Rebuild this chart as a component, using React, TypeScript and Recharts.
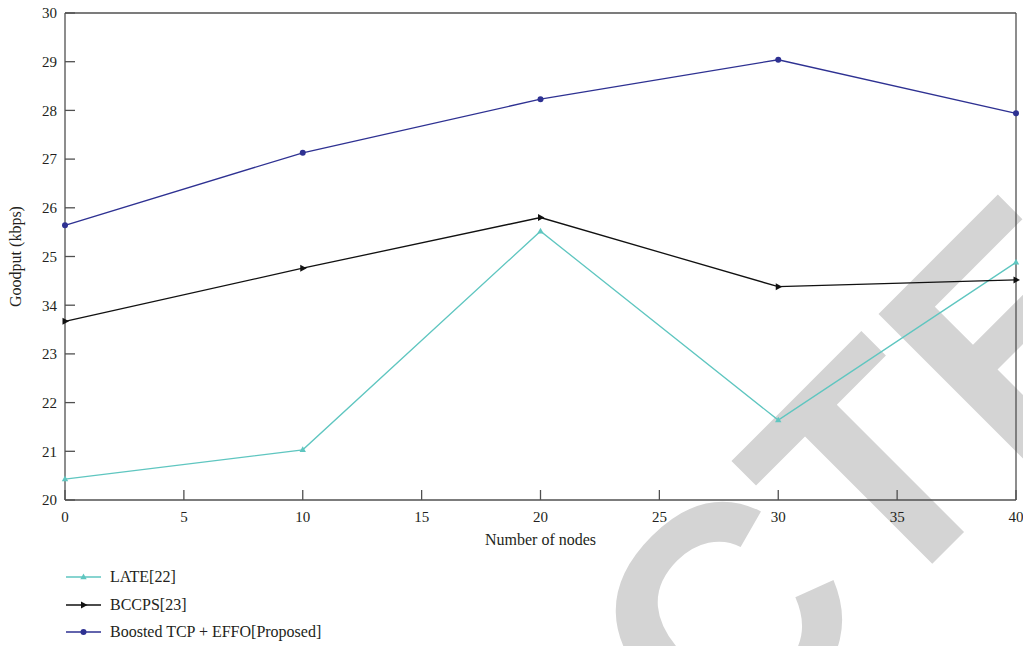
import React from 'react';
import { LineChart, Line, XAxis, YAxis, Legend } from 'recharts';

const nodes = [0, 10, 20, 30, 40];
const lateValues = [20.43, 21.03, 25.52, 21.64, 24.88];
const bccpsValues = [23.67, 24.76, 25.8, 24.38, 24.52];
const boostedValues = [25.64, 27.13, 28.23, 29.04, 27.94];

const xTicks = [0, 5, 10, 15, 20, 25, 30, 35, 40];
const yTicks = [20, 21, 22, 23, 24, 25, 26, 27, 28, 29, 30];
const yTickLabels = ['20', '21', '22', '23', '34', '25', '26', '27', '28', '29', '30'];

const seriesNames = ['LATE[22]', 'BCCPS[23]', 'Boosted TCP + EFFO[Proposed]'];
const seriesKeys = ['late', 'bccps', 'boosted'];
const seriesColors = ['#5fc6c0', '#111111', '#2e3192'];

const data = nodes.map((n, i) => ({
  nodes: n,
  late: lateValues[i],
  bccps: bccpsValues[i],
  boosted: boostedValues[i],
}));

const FONT = '"Liberation Serif", "Times New Roman", serif';
const TEXT = '#231f20';
const FRAME = '#505050';

const marker = (kind: number, cx: number, cy: number, color: string, key?: any) => {
  if (kind === 0) {
    return (
      <polygon
        key={key}
        points={`${cx},${cy - 3.5} ${cx - 3.2},${cy + 2.2} ${cx + 3.2},${cy + 2.2}`}
        fill={color}
        stroke="none"
      />
    );
  }
  if (kind === 1) {
    return (
      <polygon
        key={key}
        points={`${cx + 4},${cy} ${cx - 2.5},${cy - 3.5} ${cx - 2.5},${cy + 3.5}`}
        fill={color}
        stroke="none"
      />
    );
  }
  return <circle key={key} cx={cx} cy={cy} r={3} fill={color} stroke="none" />;
};

const makeDot = (kind: number, color: string) => (props: any) => {
  const { cx, cy, index } = props;
  if (cx == null || cy == null) return <g key={index} />;
  return marker(kind, cx, cy, color, index);
};

const renderLegend = () => (
  <div style={{ position: 'relative', height: 96, width: 400 }}>
    {seriesNames.map((name, i) => (
      <div
        key={name}
        style={{
          position: 'absolute',
          left: 0,
          top: i * 27.5,
          height: 20,
          display: 'flex',
          alignItems: 'center',
          whiteSpace: 'nowrap',
        }}
      >
        <svg width={44} height={20} style={{ display: 'block' }}>
          <line x1={0} y1={10} x2={35} y2={10} stroke={seriesColors[i]} strokeWidth={1.3} />
          {marker(i, 17.5, 10, seriesColors[i])}
        </svg>
        <span style={{ fontFamily: FONT, fontSize: 16, color: TEXT, lineHeight: '20px' }}>{name}</span>
      </div>
    ))}
  </div>
);

export default function App() {
  const tickStyle = { fill: TEXT, fontSize: 15, fontFamily: FONT };
  return (
    <div style={{ position: 'absolute', left: 0, top: 0, width: 1023, height: 646, background: '#fff', overflow: 'hidden' }}>
      <svg
        width={1023}
        height={646}
        style={{ position: 'absolute', left: 0, top: 0, zIndex: 0 }}
      >
        <text
          x={1322}
          y={174}
          textAnchor="end"
          transform="rotate(-45 1322 174)"
          fontFamily='"Liberation Sans", Arial, sans-serif'
          fontWeight="bold"
          fontSize={312}
          fill="#d4d4d4"
        >
          RETRACTED
        </text>
      </svg>
      <div style={{ position: 'absolute', left: 0, top: 0, zIndex: 1 }}>
        <LineChart
          width={1023}
          height={646}
          data={data}
          margin={{ top: 12, right: 6, left: 0, bottom: 0 }}
        >
          <XAxis
            xAxisId="bottom"
            dataKey="nodes"
            type="number"
            domain={[0, 40]}
            ticks={xTicks}
            interval={0}
            height={50}
            tickSize={-10}
            tickMargin={21}
            tick={tickStyle}
            axisLine={{ stroke: FRAME, strokeWidth: 1.3 }}
            tickLine={{ stroke: FRAME, strokeWidth: 1.3 }}
            label={{
              content: (p: any) => {
                const vb = p.viewBox || { x: 65, width: 951 };
                return (
                  <text
                    x={vb.x + vb.width / 2}
                    y={545}
                    textAnchor="middle"
                    fontFamily={FONT}
                    fontSize={16}
                    fill={TEXT}
                  >
                    Number of nodes
                  </text>
                );
              },
            }}
          />
          <XAxis
            xAxisId="top"
            dataKey="nodes"
            orientation="top"
            type="number"
            domain={[0, 40]}
            ticks={xTicks}
            interval={0}
            height={1}
            tickSize={-10}
            tick={false}
            axisLine={{ stroke: FRAME, strokeWidth: 1.3 }}
            tickLine={{ stroke: FRAME, strokeWidth: 1.3 }}
          />
          <YAxis
            yAxisId="left"
            type="number"
            domain={[20, 30]}
            ticks={yTicks}
            interval={0}
            width={65}
            tickSize={-10}
            tickMargin={18}
            tick={tickStyle}
            tickFormatter={(v: number) => yTickLabels[yTicks.indexOf(v)] ?? String(v)}
            axisLine={{ stroke: FRAME, strokeWidth: 1.3 }}
            tickLine={{ stroke: FRAME, strokeWidth: 1.3 }}
            label={{
              content: (p: any) => {
                const vb = p.viewBox || { y: 13, height: 487 };
                const cy = vb.y + vb.height / 2;
                return (
                  <text
                    x={21}
                    y={cy}
                    textAnchor="middle"
                    transform={`rotate(-90 21 ${cy})`}
                    fontFamily={FONT}
                    fontSize={16}
                    fill={TEXT}
                  >
                    Goodput (kbps)
                  </text>
                );
              },
            }}
          />
          <YAxis
            yAxisId="right"
            orientation="right"
            type="number"
            domain={[20, 30]}
            ticks={yTicks}
            interval={0}
            width={1}
            tickSize={-10}
            tick={false}
            axisLine={{ stroke: FRAME, strokeWidth: 1.3 }}
            tickLine={{ stroke: FRAME, strokeWidth: 1.3 }}
          />
          <Legend
            content={renderLegend}
            layout="horizontal"
            verticalAlign="bottom"
            align="center"
            wrapperStyle={{ position: 'absolute', left: 66, top: 567, bottom: 'auto', width: 400, height: 96 }}
          />
          {seriesKeys.map((k, i) => (
            <Line
              key={k}
              xAxisId="bottom"
              yAxisId="left"
              type="linear"
              dataKey={k}
              name={seriesNames[i]}
              stroke={seriesColors[i]}
              strokeWidth={1.3}
              dot={makeDot(i, seriesColors[i])}
              activeDot={false}
              isAnimationActive={false}
            />
          ))}
        </LineChart>
      </div>
    </div>
  );
}
